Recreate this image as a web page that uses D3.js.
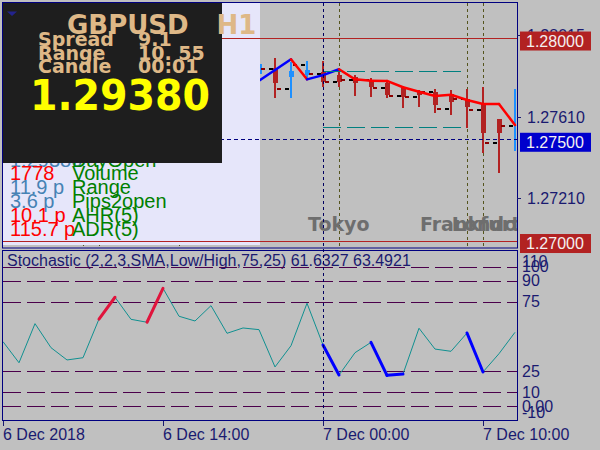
<!DOCTYPE html>
<html><head><meta charset="utf-8">
<script src="https://cdn.jsdelivr.net/npm/d3@7"></script>
<style>body{margin:0;background:#c0c0c0;}svg{display:block}</style>
</head><body>
<svg id="c" width="600" height="450"></svg>
<script>
// ---------- data ----------
const timeLabels = ["6 Dec 2018", "6 Dec 14:00", "7 Dec 00:00", "7 Dec 10:00"];
const timeLabelBars = [0, 10, 20, 30];
const stochK = [46.3, 31.2, 59.2, 42, 33.2, 34.8, 62.5, 78.1, 62.3, 60.2, 84.5, 64.5, 61.1, 72.1, 52.3, 56.1, 54.9,
  28.2, 43.4, 73.8, 43.9, 22.4, 38.4, 45.8, 22.2, 23.1, 55.9, 41, 39.4, 52.5, 24.6, 37.7, 53];
const stochUpSegs = [6, 9];          // thick red segment from bar i to i+1
const stochDownSegs = [20, 23, 24, 29]; // thick blue segment from bar i to i+1
const stochLevels = [100, 90, 75, 25, 10, 0];
const stochLabelText = ["110", "100", "90", "75", "25", "10", "0.00", "-10"];
const stochLabelVals = [110, 100, 90, 75, 25, 10, 0, -10];
const stochHeader = "Stochastic (2,2,3,SMA,Low/High,75,25) 61.6327 63.4921";

const candleStart = 16;
const opens  = [1.27822,1.27852,1.27808,1.27817,1.27832,1.27817,1.27808,1.27793,1.27778,1.27753,1.27738,1.27733,1.27724,1.27699,1.27679,1.27600,1.27570];
const highs  = [1.27882,1.27901,1.27882,1.27887,1.27887,1.27842,1.27817,1.27803,1.27788,1.27758,1.27743,1.27748,1.27743,1.27748,1.27758,1.27600,1.27748];
const lows   = [1.27812,1.27704,1.27704,1.27803,1.27758,1.27758,1.27714,1.27709,1.27704,1.27654,1.27659,1.27630,1.27620,1.27556,1.27432,1.27333,1.27442];
const closes = [1.27872,1.27778,1.27837,1.27842,1.27783,1.27783,1.27778,1.27758,1.27719,1.27709,1.27719,1.27669,1.27684,1.27659,1.27531,1.27531,1.27580];
const trendVals = [1.27789,1.27842,1.27895,1.27796,1.27817,1.27846,1.27796,1.27789,1.27788,1.27757,1.27735,1.27714,1.27720,1.27694,1.27674,1.27674,1.27570];
const trendDir = ["up","up","down","up","up","down","down","down","down","down","down","down","down","down","down","down"];
const closeMarks = [1.27847,1.27748,1.27867,1.27822,1.27783,1.27793,1.27793,1.27753,1.27714,1.27709,1.27733,1.27650,1.27699,1.27645,1.27482,1.27566];

const priceTicks = [1.28015, 1.27610, 1.27210];
const markerPrices = [1.28000, 1.27500, 1.27000];
const markerKinds = ["level", "bid", "level"];
const sessionHigh = 1.27837, sessionLow = 1.27561, sessionFrom = 20, sessionTo = 29;
const sessionLineBars = [5, 6, 11, 21, 29, 30];
const daySepBars = [20];
const sessionNames = ["Tokyo", "Frankfurt", "London"];
const sessionNameBars = [19.06, 26.06, 28.05];

const symbol = "GBPUSD", timeframe = "H1";
const infoKeys = ["Spread", "Range", "Candle"];
const infoVals = ["9.1", "10. 55", "00:01"];
const bigPrice = "1.29380";
const statVals = ["1.29380", "1778", "11.9 p", "3.6 p", "10.1 p", "115.7 p"];
const statValColors = ["#4682b4", "#ff0000", "#4682b4", "#4682b4", "#ff0000", "#ff0000"];
const statNames = ["DayOpen", "Volume", "Range", "Pips2open", "AHR(5)", "ADR(5)"];

// ---------- drawing ----------
const svg = d3.select("#c");
const x = d3.scaleLinear().domain([0, 32]).range([3, 515]);
const y = d3.scaleLinear().domain([1.26968, 1.28173]).range([247, 3]);
const ys = d3.scaleLinear().domain([-10, 110]).range([420.3, 252.7]);
const AR = "'Liberation Sans', Arial, sans-serif";
const DJ = "'DejaVu Sans', sans-serif";
const NAVY = "#1a1a70";

svg.append("rect").attr("width", 600).attr("height", 450).attr("fill", "#c0c0c0");
const defs = svg.append("defs");
defs.append("clipPath").attr("id", "cm").append("rect").attr("x", 3).attr("y", 3).attr("width", 514).attr("height", 245);
defs.append("clipPath").attr("id", "cs").append("rect").attr("x", 3).attr("y", 250.5).attr("width", 514).attr("height", 170);

const gm = svg.append("g").attr("clip-path", "url(#cm)");

// session vertical lines
gm.selectAll(".sl").data(sessionLineBars).join("line")
  .attr("x1", d => x(d) + 0.5).attr("x2", d => x(d) + 0.5).attr("y1", 3).attr("y2", 248)
  .attr("stroke", "#55551e").attr("stroke-dasharray", "3,3");

// candles
const cg = gm.append("g").attr("shape-rendering", "crispEdges");
opens.forEach((o, i) => {
  const c = closes[i], bx = x(i + candleStart);
  const col = c >= o ? "#1e90ff" : "#b22222";
  cg.append("rect").attr("x", bx - 1).attr("width", 2).attr("y", y(highs[i])).attr("height", Math.max(1, y(lows[i]) - y(highs[i]))).attr("fill", col);
  const top = y(Math.max(o, c)), bot = y(Math.min(o, c));
  const w = (Math.abs(bot - top) < 3) ? 2 : 5;
  cg.append("rect").attr("x", bx - (w === 5 ? 2 : 1)).attr("width", w).attr("y", top).attr("height", Math.max(2, bot - top)).attr("fill", col);
});
// close marks
closeMarks.forEach((m, i) => {
  const bx = x(i + candleStart);
  cg.append("rect").attr("x", bx + 2).attr("width", 4).attr("y", y(m) - 1).attr("height", 2).attr("fill", "#8b0000");
  cg.append("rect").attr("x", x(i + candleStart + 1) - 6).attr("width", 4).attr("y", y(m) - 1).attr("height", 2).attr("fill", "#000000");
});
// trend line
trendDir.forEach((d, j) => {
  gm.append("line").attr("x1", x(j + candleStart)).attr("y1", y(trendVals[j]))
    .attr("x2", x(j + candleStart + 1)).attr("y2", y(trendVals[j + 1]))
    .attr("stroke", d === "up" ? "#0000ff" : "#ff0000").attr("stroke-width", 2.5).attr("stroke-linecap", "round");
});

// lavender dashboard background
gm.append("rect").attr("x", 3).attr("y", 3).attr("width", 257).attr("height", 242).attr("fill", "#e6e6fa");

// session box lines
[sessionHigh, sessionLow].forEach(v => {
  gm.append("line").attr("x1", x(sessionFrom)).attr("x2", x(sessionTo)).attr("y1", Math.round(y(v)) + 0.5).attr("y2", Math.round(y(v)) + 0.5)
    .attr("stroke", "#008080").attr("stroke-dasharray", "18,6");
});
// price level lines
markerPrices.forEach((v, i) => {
  const yy = Math.round(y(v)) + 0.5;
  gm.append("line").attr("x1", 3).attr("x2", 517).attr("y1", yy).attr("y2", yy)
    .attr("stroke", markerKinds[i] === "bid" ? "#000080" : "#b22222")
    .attr("stroke-dasharray", markerKinds[i] === "bid" ? "4,3" : null);
});
// session names
sessionNames.forEach((n, i) => {
  gm.append("text").attr("x", x(sessionNameBars[i])).attr("y", 230.5).text(n)
    .attr("font-family", DJ).attr("font-weight", "bold").attr("font-size", 19).attr("fill", "#6e6e6e");
});

// lower-left stats
statVals.forEach((v, i) => {
  const by = 166.5 + i * 13.9;
  gm.append("text").attr("x", 10).attr("y", by).text(v).attr("font-family", AR).attr("font-size", 20).attr("fill", statValColors[i]);
  gm.append("text").attr("x", 72).attr("y", by).text(statNames[i]).attr("font-family", AR).attr("font-size", 20).attr("fill", "#008000");
});

// black info panel
gm.append("rect").attr("x", 3).attr("y", 3).attr("width", 219).attr("height", 160).attr("fill", "#1e1e1e");
gm.append("path").attr("d", "M7,11.5L17,11.5L12,16Z").attr("fill", "#23238c");
const TAN = "#deb887";
gm.append("text").attr("x", 67).attr("y", 33.5).text(symbol).attr("font-family", DJ).attr("font-weight", "bold").attr("font-size", 26).attr("fill", TAN);
gm.append("text").attr("x", 216.5).attr("y", 33.5).text(timeframe).attr("font-family", DJ).attr("font-weight", "bold").attr("font-size", 26).attr("fill", TAN);
const infoBase = [45.5, 59.5, 73];
infoKeys.forEach((k, i) => {
  gm.append("text").attr("x", 38).attr("y", infoBase[i]).text(k).attr("font-family", DJ).attr("font-weight", "bold").attr("font-size", 19).attr("fill", TAN);
  gm.append("text").attr("x", 138).attr("y", infoBase[i]).text(infoVals[i]).attr("font-family", DJ).attr("font-weight", "bold").attr("font-size", 19).attr("fill", TAN);
});
gm.append("text").attr("x", 30).attr("y", 110).text(bigPrice).attr("font-family", DJ).attr("font-weight", "bold").attr("font-size", 42).attr("fill", "#ffff00")
  .attr("textLength", 180).attr("lengthAdjust", "spacingAndGlyphs");

// main frame
svg.append("rect").attr("x", 2.5).attr("y", 2.5).attr("width", 515).attr("height", 245.5).attr("fill", "none").attr("stroke", "#000080");

// price axis
priceTicks.forEach(v => {
  const yy = y(v);
  svg.append("line").attr("x1", 517).attr("x2", 521).attr("y1", Math.round(yy) + 0.5).attr("y2", Math.round(yy) + 0.5).attr("stroke", NAVY);
  svg.append("text").attr("x", 527).attr("y", yy + 5.7).text(v.toFixed(5)).attr("font-family", AR).attr("font-size", 16).attr("fill", NAVY);
});
markerPrices.forEach((v, i) => {
  const yy = y(v);
  svg.append("rect").attr("x", 520).attr("y", yy - 6.5).attr("width", 71).attr("height", 19)
    .attr("fill", markerKinds[i] === "bid" ? "#0000cd" : "#b22222");
  svg.append("text").attr("x", 526).attr("y", yy + 8.7).text(v.toFixed(5)).attr("font-family", AR).attr("font-size", 16).attr("fill", "#f4f0f0");
});

// ---------- stochastic panel ----------
const gs = svg.append("g").attr("clip-path", "url(#cs)");
gs.append("text").attr("x", 7).attr("y", 266).text(stochHeader).attr("font-family", AR).attr("font-size", 16).attr("fill", NAVY);
stochLevels.forEach(l => {
  const yy = Math.round(ys(l)) + 0.5;
  gs.append("line").attr("x1", 3).attr("x2", 517).attr("y1", yy).attr("y2", yy)
    .attr("stroke", "#4b004b").attr("stroke-dasharray", "18,6");
});
const line = d3.line().x((d, i) => x(i)).y(d => ys(d));
gs.append("path").attr("d", line(stochK)).attr("fill", "none").attr("stroke", "#109090").attr("stroke-width", 1);
const seg = (i, col) => gs.append("line").attr("x1", x(i)).attr("y1", ys(stochK[i])).attr("x2", x(i + 1)).attr("y2", ys(stochK[i + 1]))
  .attr("stroke", col).attr("stroke-width", 3).attr("stroke-linecap", "round");
stochUpSegs.forEach(i => seg(i, "#e0143c"));
stochDownSegs.forEach(i => seg(i, "#0000ff"));
svg.append("rect").attr("x", 2.5).attr("y", 250.5).attr("width", 515).attr("height", 170).attr("fill", "none").attr("stroke", "#000080");

// stochastic labels (clamped into panel)
stochLabelVals.forEach((v, i) => {
  let yy = ys(v);
  yy = Math.max(261, Math.min(412, yy));
  svg.append("text").attr("x", 522).attr("y", yy + 5.7).text(stochLabelText[i]).attr("font-family", AR).attr("font-size", 16).attr("fill", NAVY);
});

// day separator
daySepBars.forEach(b => {
  svg.append("line").attr("x1", x(b) + 0.5).attr("x2", x(b) + 0.5).attr("y1", 3).attr("y2", 420)
    .attr("stroke", "#000060").attr("stroke-dasharray", "3,3");
});

// time axis
timeLabelBars.forEach((b, i) => {
  svg.append("line").attr("x1", x(b) + 0.5).attr("x2", x(b) + 0.5).attr("y1", 421).attr("y2", 426).attr("stroke", NAVY);
  svg.append("text").attr("x", x(b)).attr("y", 440).text(timeLabels[i]).attr("font-family", AR).attr("font-size", 16).attr("fill", NAVY);
});
</script>
</body></html>
